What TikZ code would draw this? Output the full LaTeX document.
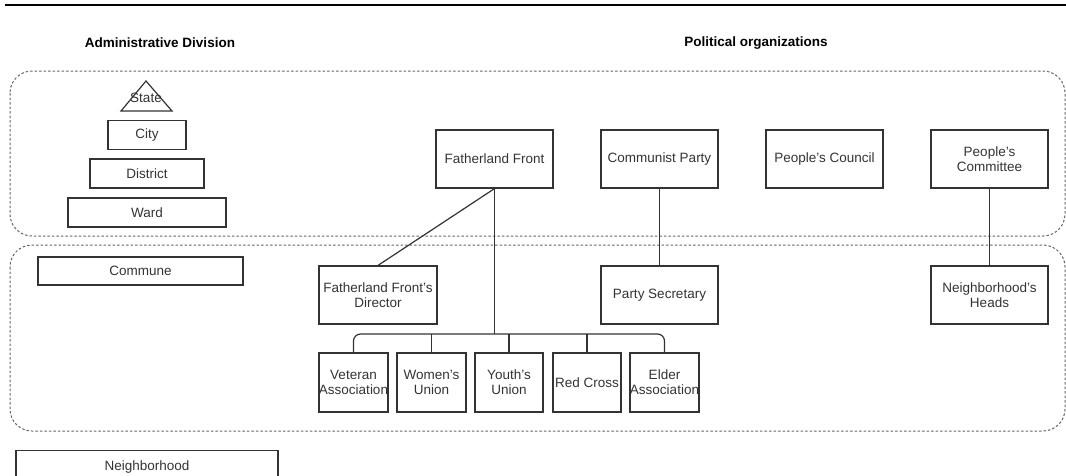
\documentclass[tikz,border=0pt]{standalone}
\usepackage{fontspec}
\setmainfont{Liberation Sans}
\definecolor{ink}{HTML}{333333}
\definecolor{frame}{HTML}{666666}
\begin{document}
\begin{tikzpicture}[x=1pt,y=-1pt,
  lbl/.style={font=\fontsize{13.5}{15}\selectfont, text=ink, align=center, inner sep=0pt},
  box/.style={lbl, draw=ink, line width=1.2pt},
  head/.style={font=\fontsize{13.5}{15}\selectfont\bfseries, text=black, inner sep=0pt},
  group/.style={draw=frame, line width=1pt, dash pattern=on 2.5pt off 2pt, rounded corners=22pt},
  link/.style={draw=ink, line width=1.2pt}]
\useasboundingbox (0,0) rectangle (1066,475);

% rule across the top
\draw[line width=2.5pt] (5,5) -- (1066,5);

% column headings
\node[head] (hadm) at (160,43) {Administrative Division};
\node[head] (hpol) at (756,43) {Political organizations};

% the two level groups
\draw[group] (10,71) rectangle (1065,236);
\draw[group] (10,245) rectangle (1065,431);

% administrative pyramid
\draw[ink, line width=1.2pt] (121,111) -- (146,81) -- (172,111) -- cycle;
\node[lbl] (state) at (146,98) {State};
\node[box, minimum width=78, minimum height=29] (city) at (147,135) {City};
\node[box, minimum width=114, minimum height=29] (district) at (147,173.5) {District};
\node[box, minimum width=158, minimum height=29] (ward) at (147,212.5) {Ward};
\node[box, minimum width=205, minimum height=28] (commune) at (140.5,271) {Commune};
\node[box, minimum width=262, minimum height=40, anchor=north] (neigh) at (147,450) {};
\node[lbl] (neightext) at (147,467) {Neighborhood};

% upper organisations
\node[box, minimum width=117, minimum height=58] (ff) at (494.5,159) {Fatherland Front};
\node[box, minimum width=117, minimum height=58] (cp) at (659.5,159) {Communist Party};
\node[box, minimum width=117, minimum height=58] (pcl) at (824.5,159) {People's Council};
\node[box, minimum width=117, minimum height=58] (pcm) at (989.5,159) {People's\\Committee};

% lower organisations
\node[box, minimum width=118, minimum height=58] (ffd) at (378,295) {Fatherland Front's\\Director};
\node[box, minimum width=117, minimum height=58] (ps) at (659.5,295) {Party Secretary};
\node[box, minimum width=117, minimum height=58] (nh) at (989.5,295) {Neighborhood's\\Heads};

% mass organisations
\node[box, minimum width=69, minimum height=59] (vet) at (353.5,382.5) {Veteran\\Association};
\node[box, minimum width=69, minimum height=59] (wom) at (431.5,382.5) {Women's\\Union};
\node[box, minimum width=68, minimum height=59] (you) at (509,382.5) {Youth's\\Union};
\node[box, minimum width=68, minimum height=59] (red) at (587,382.5) {Red Cross};
\node[box, minimum width=69, minimum height=59] (eld) at (664.5,382.5) {Elder\\Association};

% connectors
\coordinate (bus) at (494.5,334);
\draw[link] (ff.south) -- (ffd.north);
\draw[link] (ff.south) -- (bus);
\draw[link, rounded corners=7pt] (vet.north) |- (bus) -| (eld.north);
\draw[link] (wom.north) -- (wom.north |- bus);
\draw[link] (you.north) -- (you.north |- bus);
\draw[link] (red.north) -- (red.north |- bus);
\draw[link] (cp.south) -- (ps.north);
\draw[link] (pcm.south) -- (nh.north);
\end{tikzpicture}
\end{document}
